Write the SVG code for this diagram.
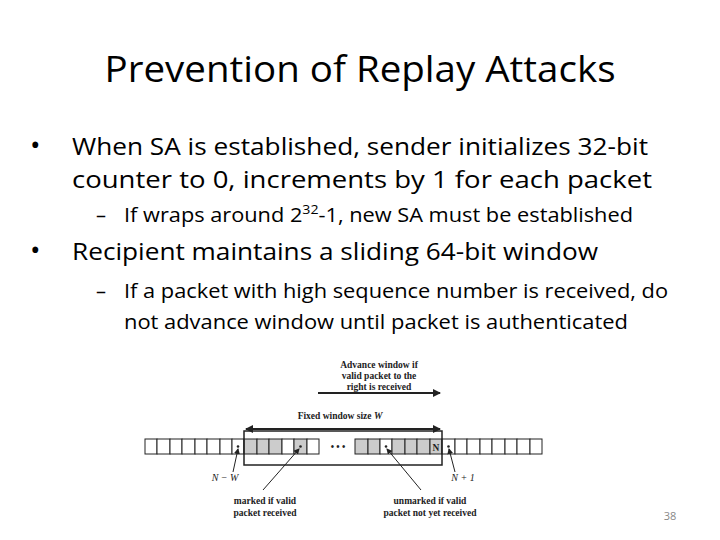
<svg xmlns="http://www.w3.org/2000/svg" width="720" height="540" viewBox="0 0 720 540">
<style>
.t{font-family:"Open Sans","Liberation Sans",sans-serif;fill:#000}
.s{font-family:"Liberation Serif",serif;font-size:9.5px;font-weight:bold;fill:#222;text-anchor:middle}
.i{font-family:"Liberation Serif",serif;font-size:10px;font-style:italic;fill:#222;text-anchor:middle}
.c{fill:#fff;stroke:#222;stroke-width:1}
.g{fill:#ccc;stroke:#222;stroke-width:1}
.ln{stroke:#222;stroke-width:1;fill:none}
.ar{stroke:#222;stroke-width:2;fill:none}
.d{fill:#222}
</style>
<defs>
<marker id="ah" markerWidth="8" markerHeight="8" refX="7" refY="4" orient="auto-start-reverse" markerUnits="userSpaceOnUse"><path d="M0,0 L8,4 L0,8 Z" fill="#222"/></marker>
<marker id="sa" markerWidth="6" markerHeight="6" refX="5" refY="3" orient="auto" markerUnits="userSpaceOnUse"><path d="M0,0 L6,3 L0,6 Z" fill="#222"/></marker>
</defs>
<rect width="720" height="540" fill="#fff"/>
<g id="text">
<text class="t" x="360" y="82" font-size="36" text-anchor="middle" textLength="511" lengthAdjust="spacingAndGlyphs">Prevention of Replay Attacks</text>
<text class="t" x="30" y="155" font-size="28">•</text>
<text class="t" x="72" y="155" font-size="24" textLength="576" lengthAdjust="spacingAndGlyphs">When SA is established, sender initializes 32-bit</text>
<text class="t" x="72" y="188" font-size="24" textLength="580" lengthAdjust="spacingAndGlyphs">counter to 0, increments by 1 for each packet</text>
<text class="t" x="96" y="222" font-size="20">–</text>
<text class="t" x="124" y="222" font-size="20" textLength="509" lengthAdjust="spacingAndGlyphs">If wraps around 2<tspan font-size="13" dy="-8">32</tspan><tspan dy="8">-1, new SA must be established</tspan></text>
<text class="t" x="30" y="260" font-size="28">•</text>
<text class="t" x="72" y="260" font-size="24" textLength="526" lengthAdjust="spacingAndGlyphs">Recipient maintains a sliding 64-bit window</text>
<text class="t" x="96" y="298" font-size="20">–</text>
<text class="t" x="124" y="298" font-size="20" textLength="544" lengthAdjust="spacingAndGlyphs">If a packet with high sequence number is received, do</text>
<text class="t" x="124" y="329" font-size="20" textLength="504" lengthAdjust="spacingAndGlyphs">not advance window until packet is authenticated</text>
<text class="t" x="670" y="520" font-size="11" text-anchor="middle" style="fill:#888">38</text>
</g>
<g id="cells">
<rect class="c" x="145" y="439" width="12" height="15"/><rect class="c" x="157" y="439" width="13" height="15"/><rect class="c" x="170" y="439" width="12" height="15"/><rect class="c" x="182" y="439" width="13" height="15"/><rect class="c" x="195" y="439" width="12" height="15"/><rect class="c" x="207" y="439" width="13" height="15"/><rect class="c" x="220" y="439" width="12" height="15"/><rect class="c" x="232" y="439" width="12" height="15"/>
<rect class="g" x="244" y="439" width="13" height="15"/><rect class="g" x="257" y="439" width="12" height="15"/><rect class="g" x="269" y="439" width="13" height="15"/><rect class="c" x="282" y="439" width="12" height="15"/><rect class="g" x="294" y="439" width="13" height="15"/><rect class="c" x="307" y="439" width="12" height="15"/>
<rect class="g" x="355" y="439" width="13" height="15"/><rect class="g" x="368" y="439" width="12" height="15"/><rect class="c" x="380" y="439" width="12" height="15"/><rect class="g" x="392" y="439" width="13" height="15"/><rect class="g" x="405" y="439" width="12" height="15"/><rect class="g" x="417" y="439" width="13" height="15"/><rect class="g" x="430" y="439" width="12" height="15"/>
<rect class="c" x="442" y="439" width="13" height="15"/><rect class="c" x="455" y="439" width="12" height="15"/><rect class="c" x="467" y="439" width="13" height="15"/><rect class="c" x="480" y="439" width="12" height="15"/><rect class="c" x="492" y="439" width="13" height="15"/><rect class="c" x="505" y="439" width="12" height="15"/><rect class="c" x="517" y="439" width="13" height="15"/><rect class="c" x="530" y="439" width="12" height="15"/>
<circle class="d" cx="238" cy="446.5" r="1.3"/><circle class="d" cx="300.5" cy="446.5" r="1.3"/><circle class="d" cx="386" cy="446.5" r="1.3"/><circle class="d" cx="448.5" cy="446.5" r="1.3"/>
<text class="s" x="338" y="450" font-size="10">• • •</text>
<text class="s" x="436" y="451">N</text>
</g>
<g id="window"><rect x="244" y="431" width="198" height="34" fill="none" stroke="#222" stroke-width="1.5"/></g>
<g id="connectors">
<line class="ar" x1="246" y1="429" x2="440" y2="429" marker-start="url(#ah)" marker-end="url(#ah)"/>
<line class="ar" x1="318" y1="393" x2="440" y2="393" marker-end="url(#ah)"/>
<line class="ln" x1="233" y1="472" x2="238" y2="449" marker-end="url(#sa)"/>
<line class="ln" x1="455" y1="472" x2="449" y2="449" marker-end="url(#sa)"/>
<line class="ln" x1="263" y1="490" x2="299" y2="449" marker-end="url(#sa)"/>
<line class="ln" x1="421" y1="490" x2="387" y2="449" marker-end="url(#sa)"/>
</g>
<g id="labels">
<text class="s" x="379" y="368">Advance window if</text>
<text class="s" x="379" y="379">valid packet to the</text>
<text class="s" x="379" y="390">right is received</text>
<text class="s" x="340" y="419">Fixed window size <tspan font-style="italic">W</tspan></text>
<text class="i" x="225" y="481">N − W</text>
<text class="i" x="463" y="481">N + 1</text>
<text class="s" x="265" y="504">marked if valid</text>
<text class="s" x="265" y="516">packet received</text>
<text class="s" x="430" y="504">unmarked if valid</text>
<text class="s" x="430" y="516">packet not yet received</text>
</g>
</svg>
